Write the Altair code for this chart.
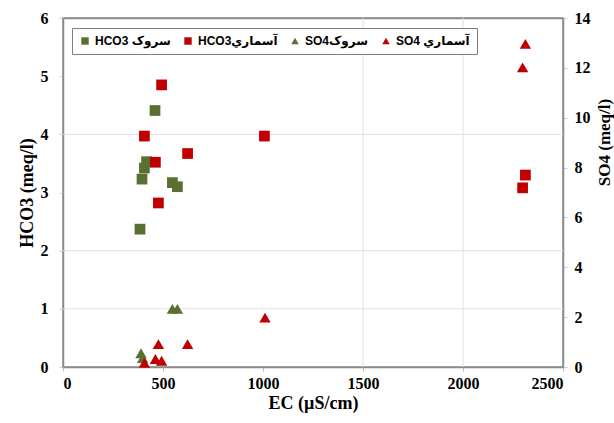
import altair as alt
import pandas as pd

# ---- data ----
ec_sarvak_hco3 = [460, 418, 407, 395, 547, 572, 385]
sarvak_hco3 = [4.41, 3.53, 3.42, 3.23, 3.17, 3.10, 2.37]
ec_asmari_hco3 = [493, 407, 1007, 623, 462, 477, 2312, 2298]
asmari_hco3 = [4.85, 3.97, 3.97, 3.67, 3.52, 2.82, 3.30, 3.08]
ec_sarvak_so4 = [547, 572, 390, 398]
sarvak_so4 = [2.33, 2.33, 0.55, 0.36]
ec_asmari_so4 = [1010, 623, 477, 462, 493, 407, 2312, 2298]
asmari_so4 = [1.98, 0.92, 0.92, 0.32, 0.25, 0.17, 12.96, 12.02]

series_names = ["HCO3 سروک", "HCO3آسماري", "SO4سروک", "SO4 آسماري"]
series_colors = ["#5a7031", "#c00000", "#5a7031", "#c00000"]
series_shapes = ["square", "square", "triangle-up", "triangle-up"]

x_ticks = [0, 500, 1000, 1500, 2000, 2500]
hco3_ticks = [0, 1, 2, 3, 4, 5, 6]
so4_ticks = [0, 2, 4, 6, 8, 10, 12, 14]
grid_x = [1500, 2000]
grid_hco3 = [1, 2, 4]

hco3_df = pd.DataFrame({
    "ec": ec_sarvak_hco3 + ec_asmari_hco3,
    "hco3": sarvak_hco3 + asmari_hco3,
    "series": [series_names[0]] * len(ec_sarvak_hco3) + [series_names[1]] * len(ec_asmari_hco3),
})
so4_df = pd.DataFrame({
    "ec": ec_sarvak_so4 + ec_asmari_so4,
    "so4": sarvak_so4 + asmari_so4,
    "series": [series_names[2]] * len(ec_sarvak_so4) + [series_names[3]] * len(ec_asmari_so4),
})

serif = "Liberation Serif"
frame = "#8a8a8a"


def xscale():
    return alt.Scale(domain=[0, 2500], nice=False, zero=True)


color_enc = alt.Color(
    "series:N",
    scale=alt.Scale(domain=series_names, range=series_colors),
    legend=alt.Legend(
        title=None, orient="none", legendX=9, legendY=10, direction="horizontal",
        strokeColor="#7f7f7f", fillColor="white", padding=7,
        labelFont="Liberation Sans, DejaVu Sans", labelFontWeight="bold", labelFontSize=12,
        labelColor="black", symbolSize=55, symbolStrokeWidth=0, columnPadding=11,
        labelOffset=4, symbolOpacity=1,
    ),
)
shape_enc = alt.Shape(
    "series:N",
    scale=alt.Scale(domain=series_names, range=series_shapes),
    legend=alt.Legend(title=None, orient="none", legendX=9, legendY=10, direction="horizontal"),
)

# vertical grid lines + top frame line (top axis domain)
gx = alt.Chart(pd.DataFrame({"g": grid_x})).mark_rule(color="#e0e0e0", strokeWidth=1).encode(
    x=alt.X("g:Q", scale=xscale(), axis=alt.Axis(
        orient="top", labels=False, ticks=False, grid=False, title=None,
        domain=True, domainColor=frame, domainWidth=1.5,
    ))
)
# horizontal grid lines
gy = alt.Chart(pd.DataFrame({"g": grid_hco3})).mark_rule(color="#e0e0e0", strokeWidth=1).encode(
    y=alt.Y("g:Q", scale=alt.Scale(domain=[0, 6], nice=False), axis=None)
)

hco3_layer = alt.Chart(hco3_df).mark_point(filled=True, opacity=1, size=115).encode(
    x=alt.X("ec:Q", scale=xscale(), axis=alt.Axis(
        orient="bottom", values=x_ticks, format="d", title="EC (µS/cm)", grid=False,
        labelPadding=4, titlePadding=3, tickSize=4, tickColor="#bfbfbf",
        domain=True, domainColor=frame, domainWidth=1.5,
    )),
    y=alt.Y("hco3:Q", scale=alt.Scale(domain=[0, 6], nice=False), axis=alt.Axis(
        orient="left", values=hco3_ticks, title="HCO3 (meq/l)", grid=False,
        tickSize=4, tickColor="#cfcfcf", labelPadding=11, titlePadding=4,
        domain=True, domainColor=frame, domainWidth=1.5,
    )),
    color=color_enc,
    shape=shape_enc,
)

so4_layer = alt.Chart(so4_df).mark_point(filled=True, opacity=1, size=130).encode(
    x=alt.X("ec:Q", scale=xscale(), axis=None),
    y=alt.Y("so4:Q", scale=alt.Scale(domain=[0, 14], nice=False), axis=alt.Axis(
        orient="right", values=so4_ticks, title="SO4 (meq/l)", grid=False,
        tickSize=4, tickColor="#cfcfcf", labelPadding=7,
        domain=True, domainColor=frame, domainWidth=1.5,
        titleAngle=270, titleX=41, titleY=124, titleAlign="center", titleBaseline="middle",
        titleFontSize=17,
    )),
    color=color_enc,
    shape=shape_enc,
)

chart = alt.layer(gx, gy, hco3_layer, so4_layer).resolve_scale(
    x="independent", y="independent"
).properties(
    width=500, height=349,
    autosize=alt.AutoSizeParams(type="none"),
    padding={"left": 63, "top": 18, "right": 51, "bottom": 56},
    background="white",
).configure_view(
    stroke=frame, strokeWidth=1.5, strokeOpacity=1
).configure_axis(
    labelFont=serif, labelFontWeight="bold", labelFontSize=16, labelColor="black",
    titleFont=serif, titleFontWeight="bold", titleFontSize=18, titleColor="black",
)

chart.save("out.html", embed_options={"renderer": "svg", "actions": False})
